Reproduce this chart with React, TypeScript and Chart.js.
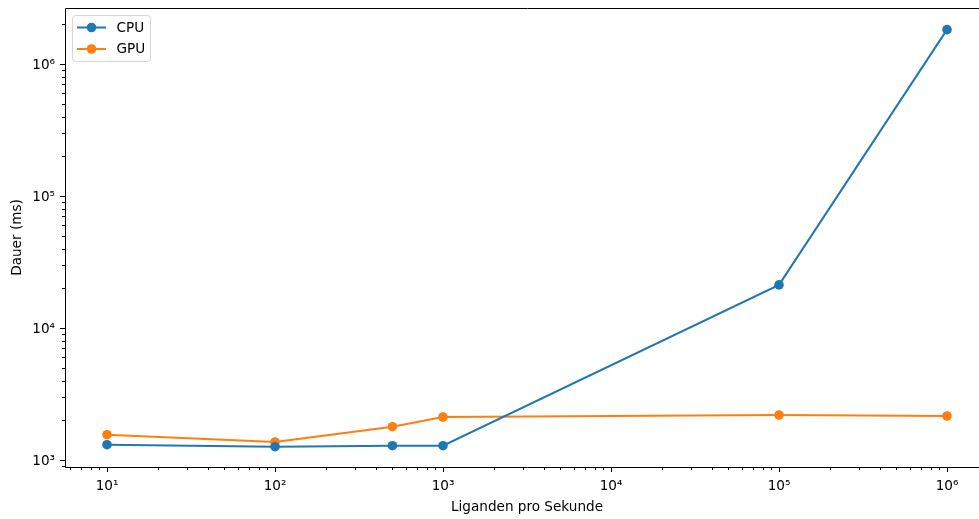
import React, { useEffect, useRef } from "react";
import { Chart, registerables } from "chart.js";

Chart.register(...registerables);

const xValues = [10, 100, 500, 1000, 100000, 1000000];
const cpuValues = [1306, 1261, 1283, 1283, 21200, 1820000];
const gpuValues = [1555, 1369, 1787, 2117, 2193, 2155];
const seriesLabels = ["CPU", "GPU"];
const seriesColors = ["#1f77b4", "#ff7f0e"];
const xTickValues = [10, 100, 1000, 10000, 100000, 1000000];
const yTickValues = [1000, 10000, 100000, 1000000];
const xTitle = "Liganden pro Sekunde";
const yTitle = "Dauer (ms)";

const FONT = "DejaVu Sans";
const FS = 13.6;
const MR = 4.8;
const SUP: Record<string, string> = {
  "0": "\u2070", "1": "\u00b9", "2": "\u00b2", "3": "\u00b3", "4": "\u2074",
  "5": "\u2075", "6": "\u2076", "7": "\u2077", "8": "\u2078", "9": "\u2079",
};
const fmt = (v: number) => {
  const e = Math.round(Math.log10(v));
  return "10" + String(e).split("").map((c) => SUP[c] || c).join("");
};

const axesPlugin = {
  id: "mplAxes",
  afterDraw(chart: any) {
    const { ctx, chartArea: a } = chart;
    const xs = chart.scales.x;
    const ys = chart.scales.y;
    ctx.save();
    ctx.strokeStyle = "#000";
    ctx.lineWidth = 1;
    const drawX = (v: number, len: number) => {
      const p = Math.round(xs.getPixelForValue(v)) + 0.5;
      if (p < a.left - 1 || p > a.right + 1) return;
      ctx.beginPath();
      ctx.moveTo(p, a.bottom);
      ctx.lineTo(p, a.bottom + len);
      ctx.stroke();
    };
    const drawY = (v: number, len: number) => {
      const p = Math.round(ys.getPixelForValue(v)) + 0.5;
      if (p < a.top - 1 || p > a.bottom + 1) return;
      ctx.beginPath();
      ctx.moveTo(a.left, p);
      ctx.lineTo(a.left - len, p);
      ctx.stroke();
    };
    for (let e = 0; e <= 6; e++) {
      for (let m = 1; m <= 9; m++) {
        drawX(m * Math.pow(10, e), m === 1 ? 5 : 3);
      }
    }
    for (let e = 2; e <= 6; e++) {
      for (let m = 1; m <= 9; m++) {
        drawY(m * Math.pow(10, e), m === 1 ? 5 : 3);
      }
    }
    ctx.beginPath();
    ctx.moveTo(a.left + 0.5, a.top + 0.5);
    ctx.lineTo(a.right + 0.5, a.top + 0.5);
    ctx.lineTo(a.right + 0.5, a.bottom + 0.5);
    ctx.lineTo(a.left + 0.5, a.bottom + 0.5);
    ctx.closePath();
    ctx.stroke();

    const bx = 72.5, by = 15.5, bw = 78, bh = 46, r = 3;
    ctx.beginPath();
    ctx.moveTo(bx + r, by);
    ctx.lineTo(bx + bw - r, by);
    ctx.quadraticCurveTo(bx + bw, by, bx + bw, by + r);
    ctx.lineTo(bx + bw, by + bh - r);
    ctx.quadraticCurveTo(bx + bw, by + bh, bx + bw - r, by + bh);
    ctx.lineTo(bx + r, by + bh);
    ctx.quadraticCurveTo(bx, by + bh, bx, by + bh - r);
    ctx.lineTo(bx, by + r);
    ctx.quadraticCurveTo(bx, by, bx + r, by);
    ctx.closePath();
    ctx.fillStyle = "rgba(255,255,255,0.8)";
    ctx.fill();
    ctx.strokeStyle = "#d6d6d6";
    ctx.stroke();

    chart.data.datasets.forEach((ds: any, i: number) => {
      const yy = 27.5 + i * 21.5;
      ctx.strokeStyle = ds.borderColor;
      ctx.lineWidth = 2;
      ctx.beginPath();
      ctx.moveTo(77, yy);
      ctx.lineTo(106, yy);
      ctx.stroke();
      ctx.fillStyle = ds.backgroundColor;
      ctx.beginPath();
      ctx.arc(91.5, yy, MR, 0, Math.PI * 2);
      ctx.fill();
      ctx.fillStyle = "#000";
      ctx.font = `${FS}px "${FONT}"`;
      ctx.textAlign = "left";
      ctx.textBaseline = "middle";
      ctx.fillText(ds.label, 116.5, yy + 0.5);
    });
    ctx.restore();
  },
};

export default function App() {
  const ref = useRef<HTMLCanvasElement | null>(null);
  useEffect(() => {
    if (!ref.current) return;
    const mk = (vals: number[], i: number) => ({
      label: seriesLabels[i],
      data: xValues.map((x, k) => ({ x, y: vals[k] })),
      borderColor: seriesColors[i],
      backgroundColor: seriesColors[i],
      pointBackgroundColor: seriesColors[i],
      pointBorderColor: seriesColors[i],
      borderWidth: 2,
      pointRadius: MR,
      pointHoverRadius: MR,
      pointBorderWidth: 0,
      tension: 0,
      fill: false,
    });
    const chart = new Chart(ref.current, {
      type: "line",
      data: { datasets: [mk(cpuValues, 0), mk(gpuValues, 1)] },
      options: {
        animation: false,
        responsive: false,
        devicePixelRatio: 1,
        layout: { padding: { top: 8, right: 11, bottom: 0, left: 0 } },
        plugins: { legend: { display: false }, tooltip: { enabled: false } },
        scales: {
          x: {
            type: "logarithmic",
            min: Math.pow(10, 0.75),
            max: Math.pow(10, 6.25),
            afterFit: (s: any) => { s.height = 52; s.paddingLeft = 0; s.paddingRight = 0; s.paddingTop = 0; s.paddingBottom = 0; },
            afterBuildTicks: (s: any) => { s.ticks = xTickValues.map((v) => ({ value: v })); },
            grid: { display: true, drawOnChartArea: false, drawTicks: false },
            border: { display: false },
            ticks: {
              autoSkip: false,
              maxRotation: 0,
              padding: 11,
              color: "#000",
              font: { family: FONT, size: FS },
              callback: (v: any) => fmt(Number(v)),
            },
            title: {
              display: true,
              text: xTitle,
              color: "#000",
              font: { family: FONT, size: FS },
              padding: { top: 0, bottom: 3 },
            },
          },
          y: {
            type: "logarithmic",
            min: Math.pow(10, 3 - 7 / 132),
            max: Math.pow(10, 6 + 56 / 132),
            afterFit: (s: any) => { s.width = 65; s.paddingLeft = 0; s.paddingRight = 0; s.paddingTop = 0; s.paddingBottom = 0; },
            afterBuildTicks: (s: any) => { s.ticks = yTickValues.map((v) => ({ value: v })); },
            grid: { display: true, drawOnChartArea: false, drawTicks: false },
            border: { display: false },
            ticks: {
              autoSkip: false,
              padding: 10,
              labelOffset: 1,
              color: "#000",
              font: { family: FONT, size: FS },
              callback: (v: any) => fmt(Number(v)),
            },
            title: {
              display: true,
              text: yTitle,
              color: "#000",
              font: { family: FONT, size: FS },
              padding: { top: 9, bottom: 0 },
            },
          },
        },
      },
      plugins: [axesPlugin],
    });
    return () => chart.destroy();
  }, []);
  return (
    <div style={{ position: "absolute", left: 0, top: 0, width: 979, height: 519, overflow: "hidden", background: "#fff" }}>
      <canvas ref={ref} width={1000} height={519} style={{ display: "block" }} />
    </div>
  );
}
